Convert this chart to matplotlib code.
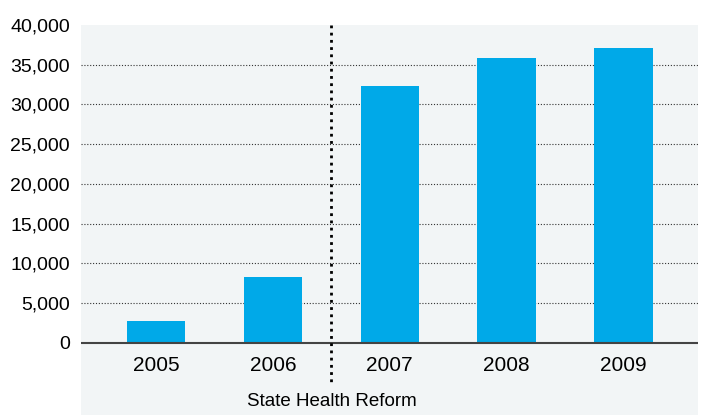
import matplotlib
matplotlib.use("Agg")
import matplotlib.pyplot as plt

# Данные
years = ["2005", "2006", "2007", "2008", "2009"]
values = [2800, 8300, 32300, 35800, 37100]
y_ticks = [0, 5000, 10000, 15000, 20000, 25000, 30000, 35000, 40000]
y_tick_labels = ["0", "5,000", "10,000", "15,000", "20,000", "25,000", "30,000", "35,000", "40,000"]
reform_label = "State Health Reform"

BAR_COLOR = "#00a9e8"
PANEL_COLOR = "#f2f5f6"
FONT = ["Liberation Sans", "DejaVu Sans"]


def render():
    fig = plt.figure(figsize=(7.01, 4.15), dpi=100)
    ax = fig.add_axes([81 / 701, 0, (698 - 81) / 701, (415 - 25) / 415])
    ax.set_facecolor(PANEL_COLOR)

    x = list(range(len(years)))
    ax.bar(x, values, width=0.5, color=BAR_COLOR, zorder=2)

    ax.set_xlim(-0.644, 4.639)
    ax.set_ylim(-9057, 40000)

    # сетка (пунктир)
    for t in y_ticks[1:-1]:
        ax.axhline(t, color="#333333", linewidth=0.8, linestyle=(0, (1, 1.6)), zorder=1)
    ax.axhline(0, color="#444444", linewidth=1.5, zorder=3)

    # линия реформы
    ax.plot([1.5, 1.5], [40000, -5283], color="black", linewidth=2,
            linestyle=(0, (1, 1.6)), zorder=4, solid_capstyle="butt")

    ax.set_yticks(y_ticks)
    ax.set_yticklabels(y_tick_labels, family=FONT, fontsize=14)
    ax.tick_params(axis="y", length=0, pad=8)
    ax.set_xticks([])
    for s in ax.spines.values():
        s.set_visible(False)

    for xi, yr in zip(x, years):
        ax.text(xi, -2830, yr, ha="center", va="center", family=FONT, fontsize=15)
    ax.text(1.5, -7421, reform_label, ha="center", va="center", family=FONT, fontsize=13.5)

    fig.savefig("out.png", dpi=100)


if __name__ == "__main__":
    render()
